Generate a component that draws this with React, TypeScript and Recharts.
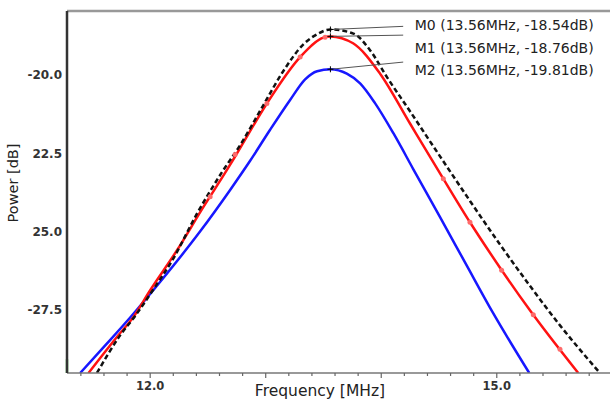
import React from 'react';
import { LineChart, Line, XAxis, YAxis, ReferenceLine, ReferenceDot, Label } from 'recharts';

// ---- data ----
const m0Freq = [11.539, 11.74, 11.87, 12.03, 12.2, 12.4, 12.62, 12.78, 12.98, 13.15, 13.33, 13.45, 13.56, 13.759, 13.903, 14.048, 14.249, 14.509, 14.768, 15.028, 15.287, 15.547, 15.893];
const m0Power = [-29.5, -28.3, -27.68, -26.82, -25.85, -24.45, -23.1, -22.22, -20.95, -19.88, -19.0, -18.68, -18.54, -18.67, -19.2, -20.05, -21.15, -22.59, -24.01, -25.4, -26.72, -27.98, -29.5];

const m1Freq = [11.466, 11.712, 11.856, 12.0, 12.231, 12.461, 12.663, 12.75, 13.01, 13.298, 13.499, 13.56, 13.756, 13.99, 14.249, 14.509, 14.768, 15.028, 15.287, 15.705];
const m1Power = [-29.5, -28.35, -27.71, -26.86, -25.59, -24.2, -23.03, -22.5, -20.9, -19.42, -18.8, -18.76, -18.98, -19.95, -21.54, -23.13, -24.69, -26.14, -27.5, -29.5];

const m2Freq = [11.394, 11.611, 11.827, 12.087, 12.433, 12.692, 12.865, 13.038, 13.211, 13.341, 13.445, 13.56, 13.702, 13.817, 13.946, 14.105, 14.278, 14.509, 14.725, 14.97, 15.281];
const m2Power = [-29.5, -28.62, -27.73, -26.59, -24.98, -23.66, -22.73, -21.74, -20.79, -20.13, -19.87, -19.81, -19.95, -20.26, -20.89, -21.85, -23.0, -24.53, -25.97, -27.6, -29.5];

const m1MarkFreq = [12.519, 12.735, 13.01, 13.298, 13.514, 14.537, 14.768, 15.042, 15.316, 15.547];
const m1MarkPower = [-23.88, -22.53, -20.9, -19.42, -18.79, -23.3, -24.69, -26.22, -27.64, -28.74];

const markerNames = ['M0', 'M1', 'M2'];
const markerFreq = [13.56, 13.56, 13.56];
const markerPower = [-18.54, -18.76, -19.81];

const xTicks = [11.4, 11.6, 11.8, 12.0, 12.2, 12.4, 12.6, 12.8, 13.0, 13.2, 13.4, 13.6, 13.8, 14.0, 14.2, 14.4, 14.6, 14.8, 15.0, 15.2, 15.4, 15.6, 15.8];
const xMajor = [12, 13, 14, 15];
const xLabelValues = [12, 15];
const xLabelText = ['12.0', '15.0'];

const yTicks = [-27.5, -25, -22.5, -20];
const yTickText = ['-27.5', '25.0', '22.5', '-20.0'];

// ---- layout (not data) ----
const X_DOMAIN: [number, number] = [11.28, 15.98];
const Y_DOMAIN: [number, number] = [-29.5, -17.95];
const leaderEndFreq = 14.19;
const leaderEndPower = [-18.44, -18.72, -19.58];
const textFreq = 14.29;
const textPower = [-18.4, -19.14, -19.84];

const pts = (f: number[], p: number[]) => f.map((x, i) => ({ f: x, v: p[i] }));

const FONT_TICK = '"DejaVu Sans", sans-serif';
const FONT_TEXT = '"DejaVu Sans", sans-serif';

const XTick = (props: any) => {
  const { x, y, payload } = props;
  const v = payload.value;
  const major = xMajor.some((m) => Math.abs(m - v) < 1e-6);
  const li = xLabelValues.findIndex((m) => Math.abs(m - v) < 1e-6);
  return (
    <g>
      <line x1={x} x2={x} y1={y} y2={y + (major ? 5 : 3)} stroke="#666" strokeWidth={1.2} />
      {li >= 0 && (
        <text x={x} y={y + 17} textAnchor="middle" fontFamily={FONT_TICK} fontWeight="bold" fontSize={11.5} fill="#333">
          {xLabelText[li]}
        </text>
      )}
    </g>
  );
};

const YTick = (props: any) => {
  const { x, y, payload } = props;
  const i = yTicks.findIndex((m) => Math.abs(m - payload.value) < 1e-6);
  return (
    <text x={x} y={y} textAnchor="end" dominantBaseline="central" fontFamily={FONT_TICK} fontWeight="bold" fontSize={12} fill="#333">
      {i >= 0 ? yTickText[i] : ''}
    </text>
  );
};

export default function App() {
  return (
    <div style={{ position: 'absolute', left: 0, top: 0, width: 610, height: 405, background: '#fff' }}>
      <LineChart width={610} height={405} margin={{ top: 11, right: 0, bottom: 0, left: 0 }}>
        <XAxis
          type="number"
          dataKey="f"
          domain={X_DOMAIN}
          ticks={xTicks}
          allowDataOverflow
          height={32}
          tickLine={false}
          tickSize={0}
          tickMargin={0}
          axisLine={{ stroke: '#777', strokeWidth: 1.5 }}
          tick={<XTick />}
          interval={0}
        >
          <Label
            content={() => (
              <text x={320} y={391} textAnchor="middle" dominantBaseline="central" fontFamily={FONT_TEXT} fontSize={15.5} fill="#222">
                Frequency [MHz]
              </text>
            )}
          />
        </XAxis>
        <YAxis
          type="number"
          dataKey="v"
          domain={Y_DOMAIN}
          ticks={yTicks}
          allowDataOverflow
          width={67}
          tickLine={false}
          tickSize={0}
          tickMargin={5}
          axisLine={{ stroke: '#333', strokeWidth: 2.5 }}
          tick={<YTick />}
          interval={0}
        >
          <Label
            content={() => (
              <text x={13} y={183} transform="rotate(-90 13 183)" textAnchor="middle" dominantBaseline="central" fontFamily={FONT_TEXT} fontSize={14.5} fill="#222">
                Power [dB]
              </text>
            )}
          />
        </YAxis>

        <ReferenceLine y={Y_DOMAIN[1]} stroke="#999" strokeWidth={2.5} ifOverflow="visible" />
        <ReferenceLine
          segment={[{ x: X_DOMAIN[0], y: Y_DOMAIN[0] }, { x: X_DOMAIN[0], y: -29.06 }]}
          stroke="#5fd35f"
          strokeWidth={2.5}
          ifOverflow="visible"
        />

        <Line data={pts(m2Freq, m2Power)} dataKey="v" type="monotone" stroke="#1717ff" strokeWidth={2.5} dot={false} isAnimationActive={false} />
        <Line data={pts(m1Freq, m1Power)} dataKey="v" type="monotone" stroke="#ff1212" strokeWidth={2.5} dot={false} isAnimationActive={false} />
        <Line
          data={pts(m1MarkFreq, m1MarkPower)}
          dataKey="v"
          stroke="none"
          dot={{ r: 2.5, fill: '#ff6a6a', stroke: 'none' }}
          isAnimationActive={false}
        />
        <Line data={pts(m0Freq, m0Power)} dataKey="v" type="monotone" stroke="#111" strokeWidth={2.5} strokeDasharray="5 3" dot={false} isAnimationActive={false} />

        {markerNames.map((n, i) => (
          <ReferenceLine
            key={'l' + n}
            segment={[{ x: markerFreq[i], y: markerPower[i] }, { x: leaderEndFreq, y: leaderEndPower[i] }]}
            stroke="#555"
            strokeWidth={1}
          />
        ))}
        {markerNames.map((n, i) => (
          <ReferenceDot
            key={'c' + n}
            x={markerFreq[i]}
            y={markerPower[i]}
            r={3}
            shape={(p: any) => (
              <path d={`M${p.cx - 3},${p.cy}h6M${p.cx},${p.cy - 3}v6`} stroke="#000" strokeWidth={1} />
            )}
          />
        ))}
        {markerNames.map((n, i) => (
          <ReferenceDot
            key={'t' + n}
            x={textFreq}
            y={textPower[i]}
            r={1}
            shape={(p: any) => (
              <text x={p.cx} y={p.cy} dominantBaseline="central" fontFamily={FONT_TEXT} fontSize={14} fill="#222">
                {`${n} (${markerFreq[i].toFixed(2)}MHz, ${markerPower[i].toFixed(2)}dB)`}
              </text>
            )}
          />
        ))}
      </LineChart>
    </div>
  );
}
